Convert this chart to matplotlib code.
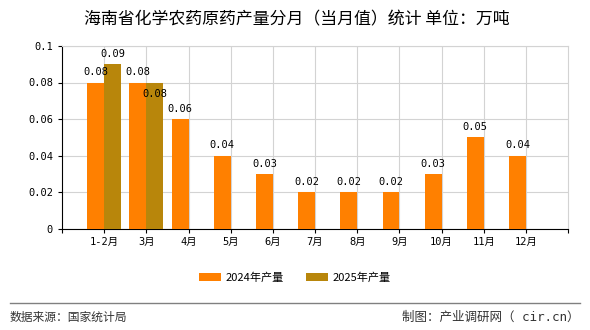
import matplotlib
matplotlib.use("Agg")
import matplotlib.pyplot as plt
import numpy as np

plt.rcParams['font.family'] = ['Noto Sans CJK SC', 'DejaVu Sans']
mono = ['DejaVu Sans Mono', 'Noto Sans CJK SC']

months = ['1-2月', '3月', '4月', '5月', '6月', '7月', '8月', '9月', '10月', '11月', '12月']
val_2024 = [0.08, 0.08, 0.06, 0.04, 0.03, 0.02, 0.02, 0.02, 0.03, 0.05, 0.04]
val_2025 = [0.09, 0.08]

c24 = '#FF8000'
c25 = '#B8860B'
grid_c = '#D3D3D3'

fig = plt.figure(figsize=(5.9, 3.3), dpi=100)
ax = fig.add_axes([0.105, 0.306, 0.858, 0.555])

x = np.arange(len(months))
w = 0.4
ax.bar(x - w / 2, val_2024, width=w, color=c24, label='2024年产量', zorder=3)
x25 = x[:len(val_2025)]
ax.bar(x25 + w / 2, val_2025, width=w, color=c25, label='2025年产量', zorder=3)

# value labels
for xi, v in zip(x, val_2024):
    ax.annotate(f'{v:g}', (xi - w / 2, v), xytext=(0, 4), textcoords='offset points',
                ha='center', va='bottom', fontsize=7.5, family=mono, zorder=4)
for i, (xi, v) in enumerate(zip(x25, val_2025)):
    # the second one sits below its bar top in the original, so the labels don't collide
    dy = 4 if i == 0 else -12
    ax.annotate(f'{v:g}', (xi + w / 2, v), xytext=(0, dy), textcoords='offset points',
                ha='center', va='bottom', fontsize=7.5, family=mono, zorder=4)

ax.set_xlim(-1, len(months))
ax.set_ylim(0, 0.1)
ax.set_yticks([0, 0.02, 0.04, 0.06, 0.08, 0.1])
ax.set_yticklabels(['0', '0.02', '0.04', '0.06', '0.08', '0.1'], fontsize=7.5, family=mono)
ax.set_xticks(x)
ax.set_xticklabels(months, fontsize=7.5, family=mono)
ax.set_xticks([-1, len(months)], minor=True)
ax.tick_params(axis='both', which='both', direction='out', length=3, width=0.8, color='black')
ax.tick_params(axis='x', pad=3)

ax.grid(True, color=grid_c, linewidth=0.8, zorder=0)
ax.set_axisbelow(True)
for s in ['top', 'right']:
    ax.spines[s].set_color(grid_c)
    ax.spines[s].set_linewidth(0.8)
for s in ['left', 'bottom']:
    ax.spines[s].set_color('black')
    ax.spines[s].set_linewidth(0.8)

fig.text(0.503, 0.94, '海南省化学农药原药产量分月（当月值）统计 单位：万吨',
         ha='center', va='center', fontsize=12.2)

fig.legend(loc='center', bbox_to_anchor=(0.5, 0.158), ncol=2, frameon=False,
           fontsize=8, handlelength=2.0, handleheight=0.8, columnspacing=2.0,
           handletextpad=0.4)

fig.add_artist(plt.Line2D([0.017, 0.983], [0.082, 0.082], color='#808080', linewidth=1))
fig.text(0.017, 0.04, '数据来源：国家统计局', ha='left', va='center', fontsize=8.5, color='#333333')
fig.text(0.983, 0.04, '制图：产业调研网（ cir.cn）', ha='right', va='center', fontsize=9,
         color='#333333', family=mono)

fig.savefig('out.png', dpi=100)
